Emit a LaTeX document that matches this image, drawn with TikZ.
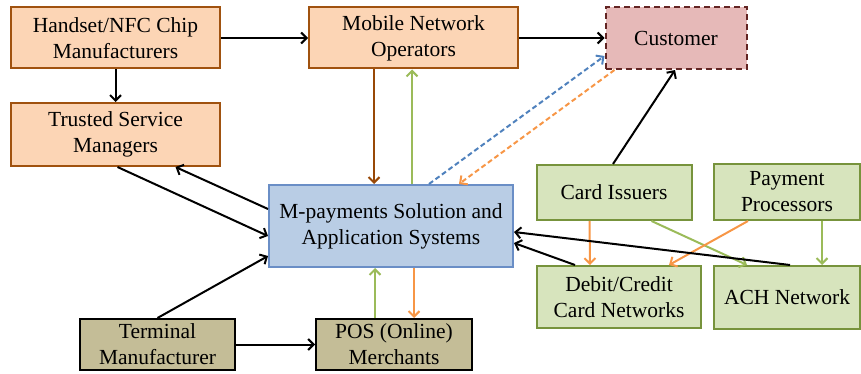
\documentclass[tikz,border=0pt]{standalone}
\usepackage{fontspec}
\setmainfont{Liberation Serif}
\usetikzlibrary{arrows.meta}
\definecolor{ofill}{HTML}{FCD5B5}
\definecolor{odraw}{HTML}{A0520F}
\definecolor{cfill}{HTML}{E6B9B8}
\definecolor{cdraw}{HTML}{632523}
\definecolor{bfill}{HTML}{B9CDE5}
\definecolor{bdraw}{HTML}{6A8EC6}
\definecolor{gfill}{HTML}{D7E4BD}
\definecolor{gdraw}{HTML}{77933C}
\definecolor{tfill}{HTML}{C4BD97}
\definecolor{garr}{HTML}{9BBB59}
\definecolor{oarr}{HTML}{F79646}
\definecolor{barr}{HTML}{4F81BD}
\definecolor{brarr}{HTML}{984807}
\tikzset{
  box/.style={rectangle, line width=2pt, align=center, inner sep=0pt,
    font=\fontsize{21.5}{26}\selectfont},
  obox/.style={box, fill=ofill, draw=odraw},
  cbox/.style={box, fill=cfill, draw=cdraw, dashed, dash pattern=on 6pt off 4pt},
  bbox/.style={box, fill=bfill, draw=bdraw},
  gbox/.style={box, fill=gfill, draw=gdraw},
  tbox/.style={box, fill=tfill, draw=black},
  arr/.style={line width=2pt, -{Straight Barb[length=5.5pt,width=11pt,line width=2pt]}},
  blk/.style={arr, draw=black},
  grn/.style={arr, draw=garr},
  org/.style={arr, draw=oarr},
  brn/.style={arr, draw=brarr},
  blu/.style={arr, draw=barr}
}
\begin{document}
\begin{tikzpicture}[x=1pt, y=-1pt]
\useasboundingbox (0,0) rectangle (861,374);
\node[obox, minimum width=209pt, minimum height=61pt] (hand) at (115.5,38) {Handset/NFC Chip\\Manufacturers};
\node[obox, minimum width=209pt, minimum height=63pt] (tsm) at (115.5,134.5) {Trusted Service\\Managers};
\node[obox, minimum width=209pt, minimum height=61pt] (mno) at (413.5,38) {Mobile Network\\Operators};
\node[cbox, minimum width=141pt, minimum height=62pt] (cust) at (676,38) {Customer};
\node[bbox, minimum width=244pt, minimum height=82pt] (mpay) at (391,226) {M-payments Solution and\\Application Systems};
\node[tbox, minimum width=155pt, minimum height=51pt] (term) at (157.5,344.5) {Terminal\\Manufacturer};
\node[tbox, minimum width=156pt, minimum height=51pt] (pos) at (394,344.5) {POS (Online)\\Merchants};
\node[gbox, minimum width=155pt, minimum height=55pt] (ci) at (614,192.5) {Card Issuers};
\node[gbox, minimum width=146pt, minimum height=56pt] (pp) at (787,192) {Payment\\Processors};
\node[gbox, minimum width=164pt, minimum height=62pt] (deb) at (619,297) {Debit/Credit\\Card Networks};
\node[gbox, minimum width=146pt, minimum height=63pt] (ach) at (787,297.5) {ACH Network};

\draw[blk] (hand.east) -- (mno.west);
\draw[blk] (hand.south) -- (tsm.north);
\draw[blk] (mno.east) -- (cust.west);
\draw[brn] ([xshift=66pt]mno.south west) -- ([xshift=106pt]mpay.north west);
\draw[grn] ([xshift=144pt]mpay.north west) -- ([xshift=104pt]mno.south west);
\draw[blu, dashed, dash pattern=on 5pt off 3pt] ([xshift=161pt]mpay.north west) -- ([yshift=14pt]cust.south west);
\draw[org, dashed, dash pattern=on 5pt off 3pt] ([xshift=10pt]cust.south west) -- ([xshift=191pt]mpay.north west);
\draw[blk] ([xshift=2pt]tsm.south) -- ([yshift=-52pt]mpay.north west);
\draw[blk] ([yshift=-25pt]mpay.north west) -- ([xshift=60pt]tsm.south);
\draw[blk] (term.north) -- ([yshift=12pt]mpay.south west);
\draw[blk] (term.east) -- (pos.west);
\draw[grn] ([xshift=60pt]pos.north west) -- ([xshift=107pt]mpay.south west);
\draw[org] ([xshift=146pt]mpay.south west) -- ([xshift=99pt]pos.north west);
\draw[blk] ([xshift=-1pt]ci.north) -- ([xshift=-1pt]cust.south);
\draw[org] ([xshift=54pt]ci.south west) -- ([xshift=54pt]deb.north west);
\draw[grn] ([xshift=116pt]ci.south west) -- ([xshift=34pt]ach.north west);
\draw[org] ([xshift=35pt]pp.south west) -- ([xshift=133pt]deb.north west);
\draw[grn] ([xshift=109pt]pp.south west) -- ([xshift=109pt]ach.north west);
\draw[blk] ([xshift=77pt]ach.north west) -- ([yshift=-48pt]mpay.north east);
\draw[blk] ([xshift=39pt]deb.north west) -- ([yshift=-59pt]mpay.north east);
\end{tikzpicture}
\end{document}
